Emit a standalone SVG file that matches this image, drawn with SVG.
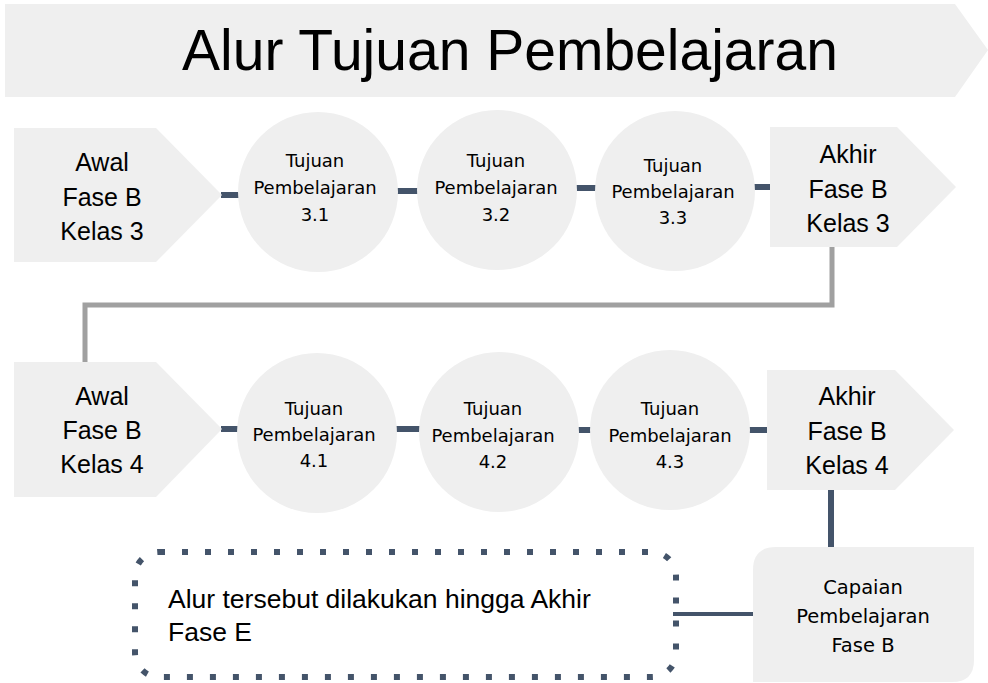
<svg xmlns="http://www.w3.org/2000/svg" width="988" height="683" viewBox="0 0 988 683">
<style>
.shape{fill:#efefef}
.big{font-family:"Liberation Sans",Arial,sans-serif;font-size:25px;fill:#000;text-anchor:middle}
.circ{font-family:"DejaVu Sans","Open Sans",sans-serif;font-size:18px;fill:#000;text-anchor:middle}
.cp{font-family:"DejaVu Sans","Open Sans",sans-serif;font-size:19.5px;fill:#000;text-anchor:middle}
.link{stroke:#44546a;stroke-width:6;fill:none}
.link2{stroke:#44546a;stroke-width:4;fill:none}
.gray{stroke:#a0a0a0;stroke-width:5;fill:none}
</style>
<rect width="988" height="683" fill="#fff"/>
<g id="title">
<polygon class="shape" points="5,4 955,4 988,50 955,97 5,97"/>
<text x="510" y="70" font-family="Liberation Sans,Arial,sans-serif" font-size="57" text-anchor="middle" fill="#000">Alur Tujuan Pembelajaran</text>
</g>
<g id="connectors">
<line class="link" x1="221" y1="195" x2="240" y2="195"/>
<line class="link" x1="397" y1="191" x2="418" y2="191"/>
<line class="link" x1="576" y1="188" x2="597" y2="188"/>
<line class="link" x1="754" y1="187" x2="771" y2="187"/>
<polyline class="gray" points="832,247 832,305 85,305 85,363"/>
<line class="link" x1="221" y1="429" x2="239" y2="429"/>
<line class="link" x1="396" y1="429" x2="421" y2="429"/>
<line class="link" x1="577" y1="430" x2="592" y2="430"/>
<line class="link" x1="749" y1="430" x2="768" y2="430"/>
<line class="link" x1="831" y1="490" x2="831" y2="548"/>
<line class="link2" x1="673" y1="614" x2="754" y2="614"/>
</g>
<g id="awal3">
<polygon class="shape" points="14,128 156,128 222,195 156,262 14,262"/>
<text class="big" x="102" y="171">Awal</text>
<text class="big" x="102" y="206">Fase B</text>
<text class="big" x="102" y="240">Kelas 3</text>
</g>
<g id="tp31">
<circle class="shape" cx="318" cy="192" r="80"/>
<text class="circ" x="315" y="167">Tujuan</text>
<text class="circ" x="315" y="194">Pembelajaran</text>
<text class="circ" x="315" y="221">3.1</text>
</g>
<g id="tp32">
<circle class="shape" cx="497" cy="190" r="80"/>
<text class="circ" x="496" y="167">Tujuan</text>
<text class="circ" x="496" y="194">Pembelajaran</text>
<text class="circ" x="496" y="221">3.2</text>
</g>
<g id="tp33">
<circle class="shape" cx="675" cy="191" r="80"/>
<text class="circ" x="673" y="172">Tujuan</text>
<text class="circ" x="673" y="198">Pembelajaran</text>
<text class="circ" x="673" y="224">3.3</text>
</g>
<g id="akhir3">
<polygon class="shape" points="770,127 897,127 956,187 897,247 770,247"/>
<text class="big" x="848" y="163">Akhir</text>
<text class="big" x="848" y="198">Fase B</text>
<text class="big" x="848" y="232">Kelas 3</text>
</g>
<g id="awal4">
<polygon class="shape" points="14,362 156,362 222,429 156,497 14,497"/>
<text class="big" x="102" y="405">Awal</text>
<text class="big" x="102" y="439">Fase B</text>
<text class="big" x="102" y="473">Kelas 4</text>
</g>
<g id="tp41">
<circle class="shape" cx="317" cy="433" r="80"/>
<text class="circ" x="314" y="415">Tujuan</text>
<text class="circ" x="314" y="441">Pembelajaran</text>
<text class="circ" x="314" y="467">4.1</text>
</g>
<g id="tp42">
<circle class="shape" cx="499" cy="432" r="80"/>
<text class="circ" x="493" y="415">Tujuan</text>
<text class="circ" x="493" y="442">Pembelajaran</text>
<text class="circ" x="493" y="468">4.2</text>
</g>
<g id="tp43">
<circle class="shape" cx="670" cy="430" r="80"/>
<text class="circ" x="670" y="415">Tujuan</text>
<text class="circ" x="670" y="442">Pembelajaran</text>
<text class="circ" x="670" y="468">4.3</text>
</g>
<g id="akhir4">
<polygon class="shape" points="767,370 895,370 954,430 895,490 767,490"/>
<text class="big" x="847" y="405">Akhir</text>
<text class="big" x="847" y="440">Fase B</text>
<text class="big" x="847" y="474">Kelas 4</text>
</g>
<g id="capaian">
<path class="shape" d="M753,570 Q753,547 776,547 L974,547 L974,660 Q974,682 952,682 L753,682 Z"/>
<text class="cp" x="863" y="594">Capaian</text>
<text class="cp" x="863" y="623">Pembelajaran</text>
<text class="cp" x="863" y="652">Fase B</text>
</g>
<g id="note">
<rect x="135" y="552" width="541" height="125" rx="24" fill="none" stroke="#44546a" stroke-width="6" stroke-dasharray="6 17"/>
<text x="168" y="608" font-family="Liberation Sans,Arial,sans-serif" font-size="26.5" fill="#000">Alur tersebut dilakukan hingga Akhir</text>
<text x="168" y="641" font-family="Liberation Sans,Arial,sans-serif" font-size="26.5" fill="#000">Fase E</text>
</g>
</svg>
